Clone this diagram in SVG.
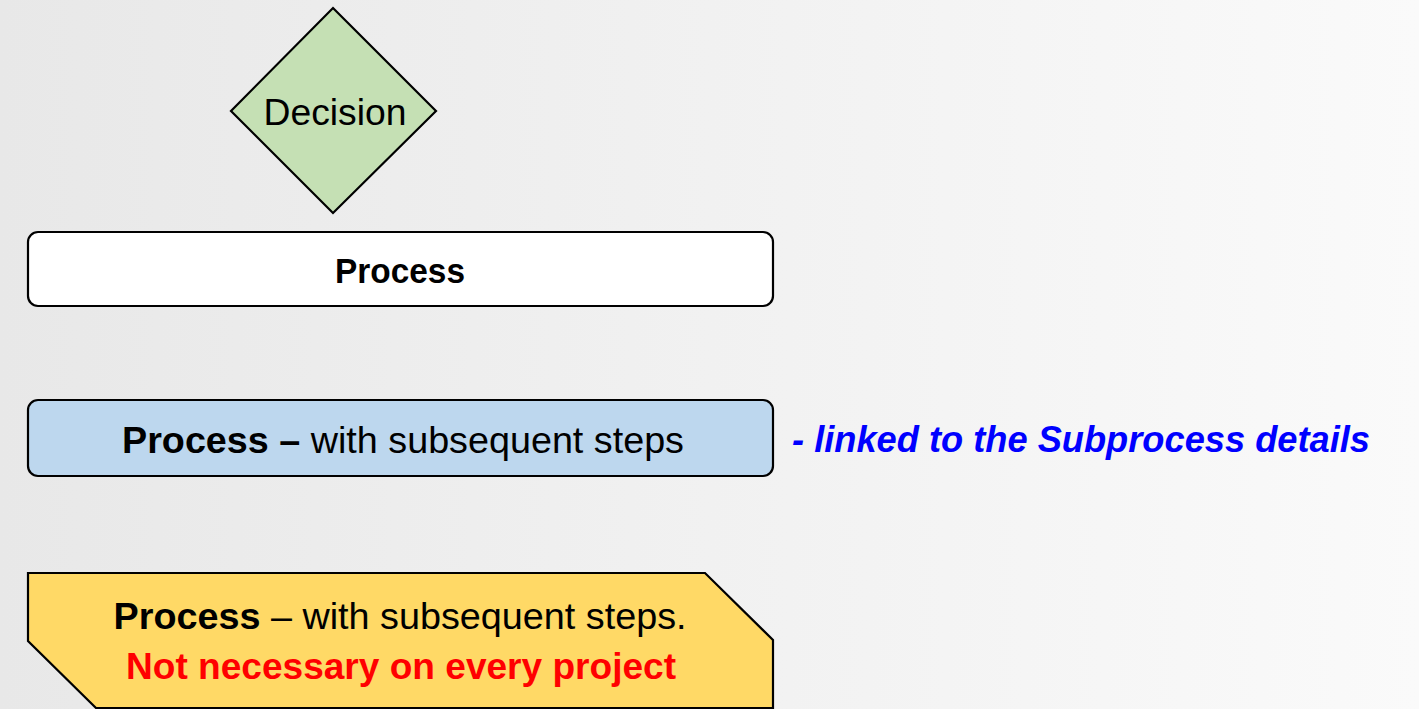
<svg xmlns="http://www.w3.org/2000/svg" width="1419" height="709" viewBox="0 0 1419 709">
<defs>
<linearGradient id="bg" x1="0" y1="0" x2="1" y2="0">
<stop offset="0" stop-color="#e8e8e8"/>
<stop offset="0.5" stop-color="#f1f1f1"/>
<stop offset="1" stop-color="#fafafa"/>
</linearGradient>
<style>
.t{font-family:"Liberation Sans",Arial,sans-serif;fill:#000}
.b{font-weight:bold}
.shape{stroke:#000;stroke-width:2.2}
</style>
</defs>
<rect x="0" y="0" width="1419" height="709" fill="url(#bg)"/>
<g id="decision">
<polygon class="shape" points="333,8 436,111 333,213 231,111" fill="#c5e0b4" stroke-width="1.6"/>
<text class="t" x="335" y="125" font-size="37" text-anchor="middle" textLength="143" lengthAdjust="spacingAndGlyphs">Decision</text>
</g>
<g id="process">
<rect class="shape" x="28" y="232" width="745" height="74" rx="10" fill="#ffffff"/>
<text class="t b" x="400" y="283" font-size="35" text-anchor="middle" textLength="130" lengthAdjust="spacingAndGlyphs">Process</text>
</g>
<g id="process-sub">
<rect class="shape" x="28" y="400" width="745" height="76" rx="10" fill="#bdd7ee"/>
<text class="t" x="403" y="453" font-size="36" text-anchor="middle" textLength="562" lengthAdjust="spacingAndGlyphs"><tspan class="b">Process –</tspan> with subsequent steps</text>
</g>
<g id="note">
<text class="t b" x="792" y="452" font-size="36" font-style="italic" style="fill:#0000ff" textLength="578" lengthAdjust="spacingAndGlyphs">- linked to the Subprocess details</text>
</g>
<g id="process-optional">
<polygon class="shape" points="28,573 705,573 773,640 773,708 96,708 28,641" fill="#ffd966"/>
<text class="t" x="400" y="629" font-size="36" text-anchor="middle" textLength="573" lengthAdjust="spacingAndGlyphs"><tspan class="b">Process</tspan> – with subsequent steps.</text>
<text class="t b" x="401" y="679" font-size="36" text-anchor="middle" style="fill:#ff0000" textLength="550" lengthAdjust="spacingAndGlyphs">Not necessary on every project</text>
</g>
<g id="connectors"/>
</svg>
